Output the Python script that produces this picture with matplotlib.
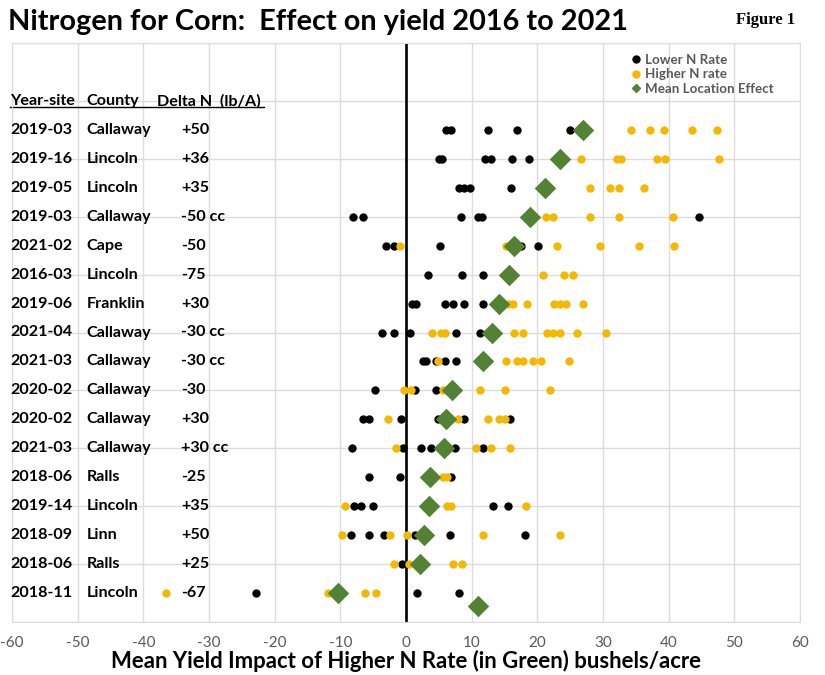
import matplotlib.pyplot as plt
from matplotlib.lines import Line2D

# Table labels (top to bottom)
year_site = ['2019-03', '2019-16', '2019-05', '2019-03', '2021-02', '2016-03', '2019-06',
             '2021-04', '2021-03', '2020-02', '2020-02', '2021-03', '2018-06', '2019-14',
             '2018-09', '2018-06', '2018-11']
county = ['Callaway', 'Lincoln', 'Lincoln', 'Callaway', 'Cape', 'Lincoln', 'Franklin',
          'Callaway', 'Callaway', 'Callaway', 'Callaway', 'Callaway', 'Ralls', 'Lincoln',
          'Linn', 'Ralls', 'Lincoln']
delta_n = ['+50', '+36', '+35', '-50 cc', '-50', '-75', '+30', '-30 cc', '-30 cc', '-30',
           '+30', '+30 cc', '-25', '+35', '+50', '+25', '-67']

# yield impact per plot, bu/acre
lower_n = [
    [6.1, 6.9, 12.5, 16.9, 25.0],
    [5.0, 5.5, 12.1, 13.0, 16.2, 18.8],
    [8.0, 8.9, 9.8, 16.0],
    [-8.1, -6.5, 8.4, 10.9, 11.6, 44.6],
    [-3.0, -1.8, 5.2, 17.5, 20.1],
    [3.4, 8.5, 11.8],
    [0.9, 1.5, 5.9, 7.2, 8.8, 11.8],
    [-3.7, -1.8, 0.6, 7.6, 11.3],
    [2.6, 3.1, 4.6, 5.9, 7.6],
    [-4.7, 1.3, 4.6],
    [-6.6, -5.6, -0.8, 4.8, 8.8, 15.8],
    [-8.2, -0.5, 2.3, 3.8, 7.5, 11.8],
    [-5.7, -0.9, 6.9],
    [-7.9, -6.8, -5.1, 13.3, 15.6],
    [-8.3, -5.6, -3.3, 1.3, 6.7, 18.1],
    [-0.6],
    [-22.9, 1.7, 8.1],
]
higher_n = [
    [34.2, 37.1, 39.3, 43.6, 47.3],
    [26.6, 32.2, 32.7, 38.2, 39.5, 47.6],
    [28.0, 31.1, 32.4, 36.2],
    [21.3, 22.4, 28.0, 32.4, 40.6],
    [-0.9, 15.2, 23.0, 29.6, 35.5, 40.8],
    [20.9, 24.0, 25.4],
    [15.6, 16.3, 18.5, 22.6, 23.4, 24.4, 27.0],
    [4.0, 5.4, 5.9, 16.5, 17.8, 21.5, 22.4, 23.4, 26.0, 30.4],
    [4.8, 15.3, 16.9, 17.8, 19.3, 20.5, 24.8],
    [-0.3, 0.7, 5.7, 11.2, 15.1, 22.0],
    [-2.7, 7.9, 12.5, 14.2, 15.0],
    [-1.5, 10.7, 12.9, 15.9],
    [5.6, 6.3],
    [-9.3, 6.3, 6.9, 18.3],
    [-9.8, -2.4, 0.1, 11.8, 23.5],
    [-1.9, 0.5, 7.1, 8.5],
    [-36.5, -11.9, -6.2, -4.6],
]
mean_effect = [26.9, 23.5, 21.2, 18.9, 16.5, 15.7, 14.1, 13.1, 11.8, 7.0, 6.1, 5.8, 3.6,
               3.5, 2.7, 2.2, -10.3]
# stray overall point below the last row
extra_x = [10.9]
extra_y = [17.45]

BLACK = '#000000'
GOLD = '#f5b800'
GREEN = '#548235'
GRID = '#dcdcdc'

plt.rcParams['font.family'] = ['Lato', 'DejaVu Sans']
plt.rcParams['axes.unicode_minus'] = False

fig = plt.figure(figsize=(8.25, 6.75), dpi=100)
ax = fig.add_axes([12 / 825, 1 - 622 / 675, 788 / 825, 579 / 675])

rows = list(range(1, len(year_site) + 1))
for r, lo, hi in zip(rows, lower_n, higher_n):
    ax.scatter(lo, [r] * len(lo), s=36, color=BLACK, zorder=3, linewidths=0)
    ax.scatter(hi, [r] * len(hi), s=36, color=GOLD, zorder=4, linewidths=0)
ax.scatter(mean_effect, rows, s=120, marker='D', color=GREEN, zorder=5, linewidths=0)
ax.scatter(extra_x, extra_y, s=120, marker='D', color=GREEN, zorder=5, linewidths=0)

ax.axvline(0, color='black', lw=1.9, zorder=2)

ax.set_xlim(-60, 60)
ax.set_ylim(18, -2)
ax.set_xticks(range(-60, 61, 10))
ax.set_yticks(range(-2, 19, 2))
ax.set_yticklabels([])
ax.tick_params(axis='y', length=0)
ax.tick_params(axis='x', length=0, labelsize=11, labelcolor='#595959', pad=10)
ax.grid(True, color=GRID, lw=1, zorder=0)
for s in ax.spines.values():
    s.set_color(GRID)

ax.set_xlabel('Mean Yield Impact of Higher N Rate (in Green) bushels/acre',
              fontsize=15.9, fontweight='bold', labelpad=0)

# table of site labels
tr = ax.get_yaxis_transform()
fs = 11.6
for r, ys, c, d in zip(rows, year_site, county, delta_n):
    ax.text(-0.002, r, ys, transform=tr, fontsize=fs, fontweight='bold', va='center')
    ax.text(0.095, r, c, transform=tr, fontsize=fs, fontweight='bold', va='center')
    ax.text(0.215, r, d, transform=tr, fontsize=fs, fontweight='bold', va='center')
ax.text(-0.002, 0.02, 'Year-site', transform=tr, fontsize=fs, fontweight='bold', va='center')
ax.text(0.095, 0.02, 'County', transform=tr, fontsize=fs, fontweight='bold', va='center')
ax.text(0.184, 0.02, 'Delta N  (lb/A)', transform=tr, fontsize=fs, fontweight='bold',
        va='center')
ax.plot([-0.002, 0.32], [0.22, 0.22], transform=tr, color='black', lw=1, clip_on=False)

handles = [
    Line2D([], [], marker='o', ls='', color=BLACK, markersize=5),
    Line2D([], [], marker='o', ls='', color=GOLD, markersize=5),
    Line2D([], [], marker='D', ls='', color=GREEN, markersize=4.5),
]
leg = ax.legend(handles, ['Lower N Rate', 'Higher N rate', 'Mean Location Effect'],
                loc='upper left', bbox_to_anchor=(0.77, 1.0), frameon=False,
                fontsize=9.6, handletextpad=0.15, labelspacing=0.2, handlelength=1,
                borderaxespad=0.4)
for t in leg.get_texts():
    t.set_color('#595959')
    t.set_fontweight('bold')

fig.text(8 / 825, 1 - 22 / 675, 'Nitrogen for Corn:  Effect on yield 2016 to 2021',
         fontsize=20.8, fontweight='bold', va='center', ha='left')
fig.text(795 / 825, 1 - 20 / 675, 'Figure 1', fontsize=12, fontweight='bold',
         family=['Liberation Serif', 'DejaVu Serif'], va='center', ha='right')

fig.savefig('out.png', dpi=100)
